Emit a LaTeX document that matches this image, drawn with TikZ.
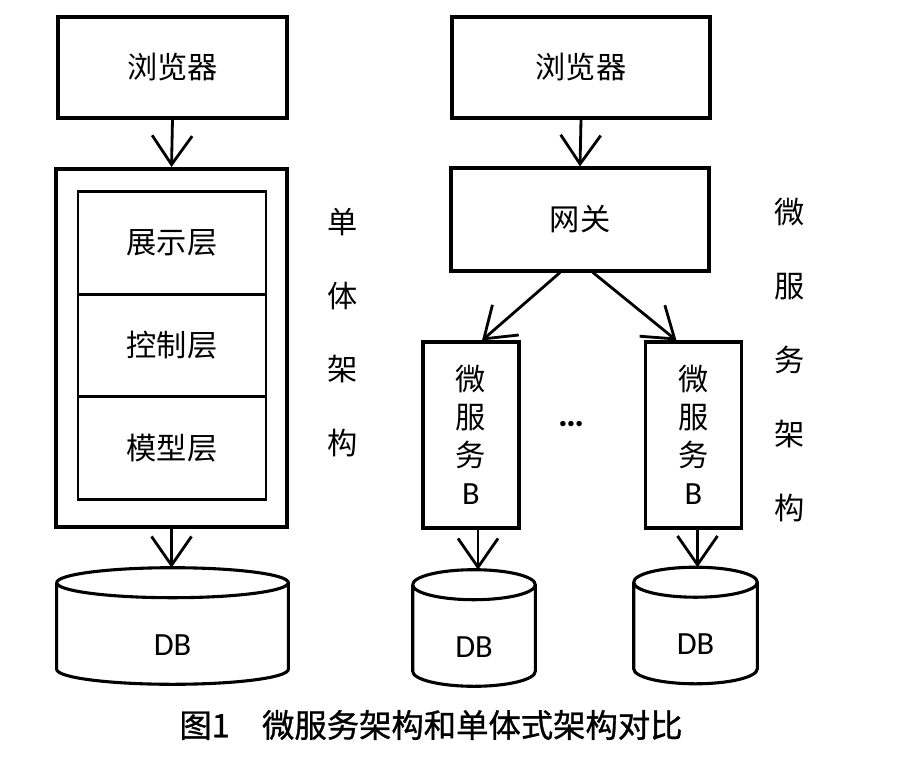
\documentclass[tikz,border=0pt]{standalone}
\usepackage{fontspec}
\setmainfont{Carlito}
\newfontfamily\cjk{Noto Sans CJK SC}
\newfontfamily\capfont{Noto Sans CJK SC}[FakeBold=1]
\usepackage{tikz}
\usetikzlibrary{arrows.meta}
\usetikzlibrary{calc}

% cylinder drawn round a named db node
\newcommand{\dbcyl}[1]{%
  \draw [line width=2.2pt] let \p1 = (#1.north west), \p2 = (#1.south east), \n1 = {(\x2-\x1)/2} in
    (\x1, \y1-0.375cm) -- (\x1, \y2+0.375cm)
    arc [start angle=180, end angle=360, x radius=\n1, y radius=0.375cm]
    -- (\x2, \y1-0.375cm)
    (\x1, \y1-0.375cm) arc [start angle=180, end angle=-180, x radius=\n1, y radius=0.375cm];}

\begin{document}
\begin{tikzpicture}
        [
            x = 0.025cm, y = -0.025cm,
            > = {Straight Barb[length=0.72cm, width=1cm]},
            box/.style = {rectangle, draw=black, line width=2.2pt, align=center, font=\cjk\fontsize{21.5}{27}\selectfont},
            layer/.style = {box, line width=1.9pt, minimum width=4.7cm, minimum height=2.567cm},
            ms/.style = {box, minimum width=2.4cm, minimum height=4.65cm},
            db/.style = {rectangle, minimum height=2.9cm, inner sep=0pt, text height=1.45cm, text depth=0pt, font=\fontsize{23}{27}\selectfont},
            side/.style = {align=center, font=\cjk\fontsize{21.5}{52.5}\selectfont},
            flow/.style = {->, line width=2pt}
        ]
        \useasboundingbox (0, 0) rectangle (913, 768);

        % monolith
        \node [box, minimum width=5.725cm, minimum height=2.525cm] at (172.5, 67.5) (browserL) {浏览器};
        \node [box, line width=2.8pt, minimum width=5.775cm, minimum height=8.95cm] at (171.5, 348) (mono) {};
        \node [layer] at (172, 243) (show) {展示层};
        \node [layer] at (172, 345.5) (ctrl) {控制层};
        \node [layer] at (172, 448) (model) {模型层};
        \node [db, minimum width=5.775cm] at (172.5, 626) (dbL) {DB};
        \node [side] at (343, 332.5) (monoLabel) {单\\体\\架\\构};

        % microservices
        \node [box, minimum width=6.45cm, minimum height=2.525cm] at (581, 67.5) (browserR) {浏览器};
        \node [box, minimum width=6.45cm, minimum height=2.575cm] at (580, 219.5) (gateway) {网关};
        \node [ms] at (471, 435) (msA) {微\\服\\务\\{\rmfamily\fontsize{23}{27}\selectfont B}};
        \node [ms] at (693.5, 435) (msB) {微\\服\\务\\{\rmfamily\fontsize{23}{27}\selectfont B}};
        \node [font=\fontsize{26}{30}\selectfont\bfseries] at (571, 424) (dots) {\dots};
        \node [db, minimum width=3.05cm] at (474, 628) (dbA) {DB};
        \node [db, minimum width=3.075cm] at (695.5, 625.5) (dbB) {DB};
        \node [side] at (790, 360) (msLabel) {微\\服\\务\\架\\构};

        \node [font=\capfont\fontsize{23}{28}\selectfont] at (431, 725) (caption) {图1　微服务架构和单体式架构对比};

        \dbcyl{dbL}
        \dbcyl{dbA}
        \dbcyl{dbB}

        \draw[flow] (browserL.south) -- (mono.north);
        \draw[flow] (mono.south) -- (mono.south |- dbL.north);
        \draw[flow] (browserR.south) -- (gateway.north);
        \draw[flow] ([xshift=-0.5cm]gateway.south) -- ([xshift=0.275cm]msA.north);
        \draw[flow] ([xshift=0.325cm]gateway.south) -- ([xshift=-0.425cm]msB.north);
        \draw[flow] ([xshift=0.175cm]msA.south) -- ([xshift=0.175cm]msA.south |- dbA.north);
        \draw[flow] ([xshift=0.1cm]msB.south) -- ([xshift=0.1cm]msB.south |- dbB.north);
    \end{tikzpicture}
\end{document}
